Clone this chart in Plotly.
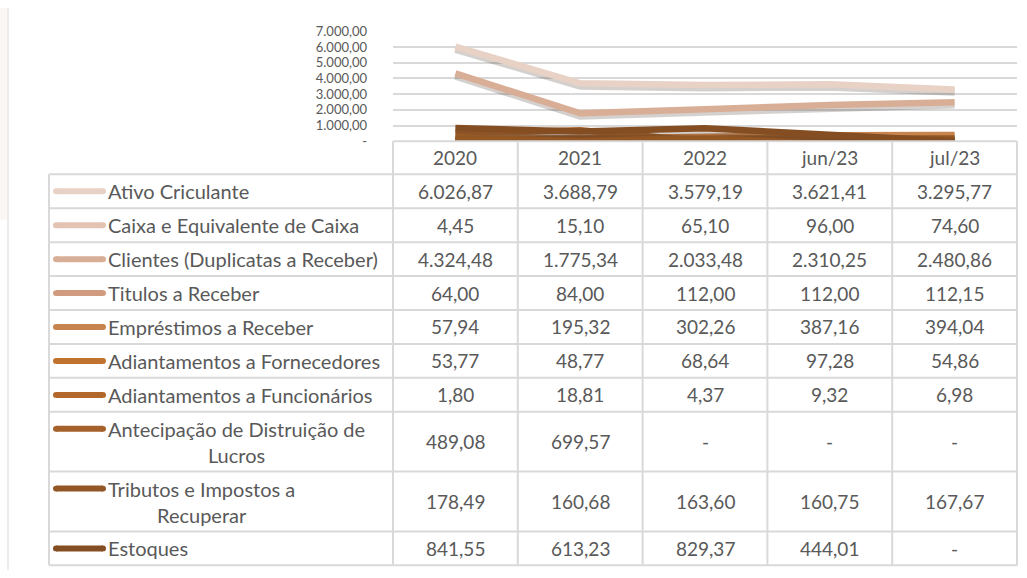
import plotly.graph_objects as go

# periods shown in the table header / x categories
periods = ['2020', '2021', '2022', 'jun/23', 'jul/23']

series_labels = [
    'Ativo Criculante',
    'Caixa e Equivalente de Caixa',
    'Clientes (Duplicatas a Receber)',
    'Titulos a Receber',
    'Empréstimos a Receber',
    'Adiantamentos a Fornecedores',
    'Adiantamentos a Funcionários',
    'Antecipação de Distruição de<br>Lucros',
    'Tributos e Impostos a<br>Recuperar',
    'Estoques',
]

ativo_circulante = [6026.87, 3688.79, 3579.19, 3621.41, 3295.77]
caixa_equivalente = [4.45, 15.10, 65.10, 96.00, 74.60]
clientes = [4324.48, 1775.34, 2033.48, 2310.25, 2480.86]
titulos_receber = [64.00, 84.00, 112.00, 112.00, 112.15]
emprestimos_receber = [57.94, 195.32, 302.26, 387.16, 394.04]
adiant_fornecedores = [53.77, 48.77, 68.64, 97.28, 54.86]
adiant_funcionarios = [1.80, 18.81, 4.37, 9.32, 6.98]
antecipacao_lucros = [489.08, 699.57, 0.0, 0.0, 0.0]
tributos_recuperar = [178.49, 160.68, 163.60, 160.75, 167.67]
estoques = [841.55, 613.23, 829.37, 444.01, 0.0]

series_values = [
    ativo_circulante, caixa_equivalente, clientes, titulos_receber,
    emprestimos_receber, adiant_fornecedores, adiant_funcionarios,
    antecipacao_lucros, tributos_recuperar, estoques,
]

y_ticks = [0, 1000, 2000, 3000, 4000, 5000, 6000, 7000]

colors = ['#e8d1c5', '#e3c3b3', '#d9ae96', '#d09b7e', '#c8844f',
          '#c0732e', '#b2682a', '#a5612a', '#925725', '#844e22']

W, H = 1027, 578
FONT = 'Lato'
TXT = '#595959'
BORDER = '#d9d9d9'


def fx(px):
    return px / W


def fy(py):
    return 1 - py / H


def br_num(v):
    if v == 0:
        return '-'
    return f'{v:,.2f}'.replace(',', 'X').replace('.', ',').replace('X', '.')


fig = go.Figure()

# chart lines with a soft drop shadow, like the Excel original
shadow_shift = 150
for name, vals, col in zip(series_labels, series_values, colors):
    fig.add_trace(go.Scatter(
        x=periods, y=[v - shadow_shift for v in vals], mode='lines',
        line=dict(color='rgba(60,40,30,0.22)', width=8),
        hoverinfo='skip', showlegend=False
    ))
    fig.add_trace(go.Scatter(
        x=periods, y=vals, mode='lines', name=name.replace('<br>', ' '),
        line=dict(color=col, width=6.5), showlegend=False
    ))

# table geometry (pixels)
left = 49
label_right = 393
right = 1017
col_w = (right - label_right) / len(periods)
header_top = 137
header_bottom = 171

row_tops = []
y = header_bottom
for lab in series_labels:
    row_tops.append(y)
    y += 61.5 if '<br>' in lab else 34.9
table_bottom = y

shapes = []
line_style = dict(color=BORDER, width=2)

# faint page edge at the left
shapes.append(dict(type='rect', xref='paper', yref='paper',
                   x0=0, x1=fx(7), y0=fy(218), y1=1,
                   fillcolor='#fbf7f4', line=dict(width=0), layer='below'))
shapes.append(dict(type='line', xref='paper', yref='paper',
                   x0=fx(8), x1=fx(8), y0=0, y1=1,
                   line=dict(color='#e6e6e6', width=1.5)))

# horizontal borders
shapes.append(dict(type='line', xref='paper', yref='paper',
                   x0=fx(label_right), x1=fx(right), y0=fy(header_top), y1=fy(header_top),
                   line=line_style))
for yy in row_tops + [table_bottom]:
    shapes.append(dict(type='line', xref='paper', yref='paper',
                       x0=fx(left), x1=fx(right), y0=fy(yy), y1=fy(yy), line=line_style))

# vertical borders
shapes.append(dict(type='line', xref='paper', yref='paper',
                   x0=fx(left), x1=fx(left), y0=fy(header_bottom), y1=fy(table_bottom),
                   line=line_style))
for i in range(len(periods) + 1):
    xx = label_right + i * col_w
    shapes.append(dict(type='line', xref='paper', yref='paper',
                       x0=fx(xx), x1=fx(xx), y0=fy(header_top), y1=fy(table_bottom),
                       line=line_style))

annotations = []
# header
for i, p in enumerate(periods):
    annotations.append(dict(
        xref='paper', yref='paper', x=fx(label_right + (i + 0.5) * col_w),
        y=fy((header_top + header_bottom) / 2), text=p, showarrow=False,
        xanchor='center', yanchor='middle', font=dict(family=FONT, size=19, color=TXT)
    ))

for lab, vals, col, top in zip(series_labels, series_values, colors, row_tops):
    two_line = '<br>' in lab
    h = 61.5 if two_line else 34.9
    mid = top + h / 2
    # legend key swatch
    shapes.append(dict(type='line', xref='paper', yref='paper',
                       x0=fx(56), x1=fx(103), y0=fy(top + 17.5), y1=fy(top + 17.5),
                       line=dict(color=col, width=6)))
    annotations.append(dict(
        xref='paper', yref='paper', x=fx(106), y=fy(mid), text=lab,
        showarrow=False, xanchor='left', yanchor='middle', align='center',
        font=dict(family=FONT, size=20, color=TXT)
    ))
    for i, v in enumerate(vals):
        annotations.append(dict(
            xref='paper', yref='paper', x=fx(label_right + (i + 0.5) * col_w),
            y=fy(mid), text=br_num(v), showarrow=False,
            xanchor='center', yanchor='middle',
            font=dict(family=FONT, size=19, color=TXT)
        ))

# round caps for swatches are approximated by small circles at the ends
for col, top in zip(colors, row_tops):
    for cx in (56, 103):
        shapes.append(dict(type='circle', xref='paper', yref='paper',
                           x0=fx(cx - 3), x1=fx(cx + 3),
                           y0=fy(top + 17.5 + 3), y1=fy(top + 17.5 - 3),
                           fillcolor=col, line=dict(width=0)))

fig.update_layout(
    width=W, height=H,
    margin=dict(l=0, r=0, t=0, b=0),
    paper_bgcolor='white', plot_bgcolor='white',
    showlegend=False,
    shapes=shapes,
    annotations=annotations,
    xaxis=dict(
        type='category', range=[-0.5, len(periods) - 0.5],
        domain=[fx(label_right), fx(right)],
        showgrid=False, showticklabels=False, ticks='', zeroline=False,
        showline=False
    ),
    yaxis=dict(
        range=[0, 7000], domain=[fy(header_top), fy(24)],
        tickvals=y_ticks, ticktext=[br_num(v) for v in y_ticks],
        showgrid=True, gridcolor=BORDER, gridwidth=1.5, zeroline=False,
        showline=False, ticks='', ticklabelstandoff=25,
        tickfont=dict(family=FONT, size=13, color=TXT)
    ),
)

# drop the browser's default body margin so the figure sits at the page origin
fig.write_html('out.html', config={'displayModeBar': False},
               post_script="document.body.style.margin='0px';")
